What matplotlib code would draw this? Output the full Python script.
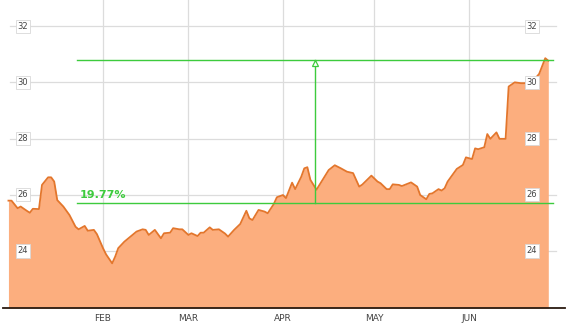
import matplotlib
matplotlib.use("Agg")
import matplotlib.pyplot as plt
import matplotlib.dates as mdates
import matplotlib.transforms as mtrans
import numpy as np
import pandas as pd

dates = ["2015-01-01","2015-01-02","2015-01-04","2015-01-05","2015-01-07","2015-01-08","2015-01-09",
         "2015-01-11","2015-01-12","2015-01-14","2015-01-15","2015-01-16","2015-01-17","2015-01-19",
         "2015-01-21","2015-01-23","2015-01-24","2015-01-26","2015-01-27","2015-01-29","2015-01-30",
         "2015-02-01","2015-02-02","2015-02-04","2015-02-05","2015-02-06","2015-02-08","2015-02-10",
         "2015-02-12","2015-02-14","2015-02-15","2015-02-16","2015-02-18","2015-02-20","2015-02-21",
         "2015-02-23","2015-02-24","2015-02-26","2015-02-27","2015-03-01","2015-03-02","2015-03-04",
         "2015-03-05","2015-03-06","2015-03-08","2015-03-09","2015-03-11","2015-03-13","2015-03-14",
         "2015-03-16","2015-03-18","2015-03-20","2015-03-21","2015-03-22","2015-03-24","2015-03-26",
         "2015-03-27","2015-03-29","2015-03-30","2015-04-01","2015-04-02","2015-04-04","2015-04-05",
         "2015-04-07","2015-04-08","2015-04-09","2015-04-10","2015-04-12","2015-04-14","2015-04-16",
         "2015-04-18","2015-04-20","2015-04-22","2015-04-24","2015-04-26","2015-04-27","2015-04-30",
         "2015-05-02","2015-05-03","2015-05-05","2015-05-06","2015-05-07","2015-05-09","2015-05-10",
         "2015-05-13","2015-05-15","2015-05-16","2015-05-18","2015-05-19","2015-05-20","2015-05-22",
         "2015-05-23","2015-05-24","2015-05-25","2015-05-27","2015-05-28","2015-05-30","2015-05-31",
         "2015-06-02","2015-06-03","2015-06-04","2015-06-06","2015-06-07","2015-06-08","2015-06-10",
         "2015-06-11","2015-06-13","2015-06-14","2015-06-16","2015-06-18","2015-06-19","2015-06-21",
         "2015-06-22","2015-06-24","2015-06-26","2015-06-27"]
prices = [25.79,25.79,25.52,25.58,25.43,25.36,25.50,
          25.49,26.35,26.62,26.62,26.47,25.81,25.58,
          25.28,24.86,24.77,24.89,24.72,24.75,24.60,
          24.10,23.88,23.56,23.80,24.10,24.33,24.51,
          24.69,24.77,24.75,24.57,24.75,24.45,24.63,
          24.65,24.81,24.77,24.77,24.57,24.63,24.53,
          24.65,24.65,24.84,24.75,24.77,24.62,24.51,
          24.75,24.96,25.43,25.16,25.10,25.46,25.40,
          25.34,25.67,25.91,25.99,25.88,26.43,26.20,
          26.64,26.94,26.98,26.53,26.18,26.53,26.88,
          27.05,26.94,26.82,26.77,26.29,26.36,26.68,
          26.47,26.41,26.20,26.20,26.37,26.35,26.31,
          26.44,26.29,25.99,25.84,26.03,26.05,26.20,
          26.15,26.23,26.47,26.77,26.92,27.06,27.33,
          27.27,27.65,27.62,27.69,28.16,27.99,28.22,
          27.99,27.99,29.85,30.00,29.97,29.97,29.98,
          30.05,30.30,30.86,30.77]

month_ticks = ["2015-02-01","2015-03-01","2015-04-01","2015-05-01","2015-06-01"]
month_labels = ["FEB","MAR","APR","MAY","JUN"]
y_ticks = [24, 26, 28, 30, 32]

anno_low = 25.71
anno_pct = 19.77
anno_start = "2015-01-23 12:00"
anno_end = "2015-06-28 12:00"
anno_vert = "2015-04-11 12:00"

x = pd.to_datetime(dates)
xnum = mdates.date2num(x)
y = np.array(prices)
anno_high = anno_low * (1 + anno_pct / 100)

W, H = 569, 335
fig = plt.figure(figsize=(W/100, H/100), dpi=100)
left_px, right_px, bottom_px = 3, 565, 308
ax = fig.add_axes([left_px/W, (H-bottom_px)/H, (right_px-left_px)/W, bottom_px/H])

px_per_day = 3.05
jan1 = mdates.date2num(pd.Timestamp("2015-01-01"))
x0 = jan1 - (8.45 - left_px)/px_per_day
x1 = jan1 + (right_px - 8.45)/px_per_day
ax.set_xlim(x0, x1)
ymin, ymax = 21.97, 32.93
ax.set_ylim(ymin, ymax)

# grid
blend = mtrans.blended_transform_factory(ax.transAxes, ax.transData)
gl, gr = (10-left_px)/(right_px-left_px), (556-left_px)/(right_px-left_px)
for t in y_ticks:
    ax.plot([gl, gr], [t, t], transform=blend, color="#dcdcdc", lw=0.9, zorder=1)
for m in month_ticks:
    ax.axvline(mdates.date2num(pd.Timestamp(m)), color="#dcdcdc", lw=0.9, zorder=1)

ax.fill_between(xnum, y, ymin, color="#FCAE7E", lw=0, zorder=2)
ax.plot(xnum, y, color="#E3762C", lw=1.3, zorder=3)

# annotation
green = "#3DCB3D"
xs = mdates.date2num(pd.Timestamp(anno_start))
xe = mdates.date2num(pd.Timestamp(anno_end))
xv = mdates.date2num(pd.Timestamp(anno_vert))
ax.plot([xs, xe], [anno_low, anno_low], color=green, lw=1.0, zorder=4)
ax.plot([xs, xe], [anno_high, anno_high], color=green, lw=1.0, zorder=4)
ax.plot([xv, xv], [anno_low, anno_high], color=green, lw=1.0, zorder=4)
ax.plot([xv], [anno_high - 0.1], marker="^", ms=5, mfc="white", mec=green, mew=0.9, zorder=5)
ax.text(xs + 1.0, anno_low + 0.12, f"{anno_pct:.2f}%", color=green, fontsize=8,
        fontweight="bold", ha="left", va="bottom", zorder=5)

# y labels (boxed, inside)
lx = (23-left_px)/(right_px-left_px)
rx = (532-left_px)/(right_px-left_px)
for t in y_ticks:
    for xx in (lx, rx):
        ax.text(xx, t, str(t), transform=blend, ha="center", va="center", fontsize=6,
                color="#444444", zorder=6,
                bbox=dict(boxstyle="square,pad=0.25", fc="white", ec="#d8d8d8", lw=0.6))

ax.set_yticks([])
ax.set_xticks([mdates.date2num(pd.Timestamp(m)) for m in month_ticks])
ax.set_xticklabels(month_labels, fontsize=6.5, color="#444444")
ax.tick_params(axis="x", length=0, pad=4)
for s in ["top", "left", "right"]:
    ax.spines[s].set_visible(False)
ax.spines["bottom"].set_color("#2a1a10")
ax.spines["bottom"].set_linewidth(1.3)
ax.set_facecolor("white")
fig.savefig("out.png", dpi=100)
